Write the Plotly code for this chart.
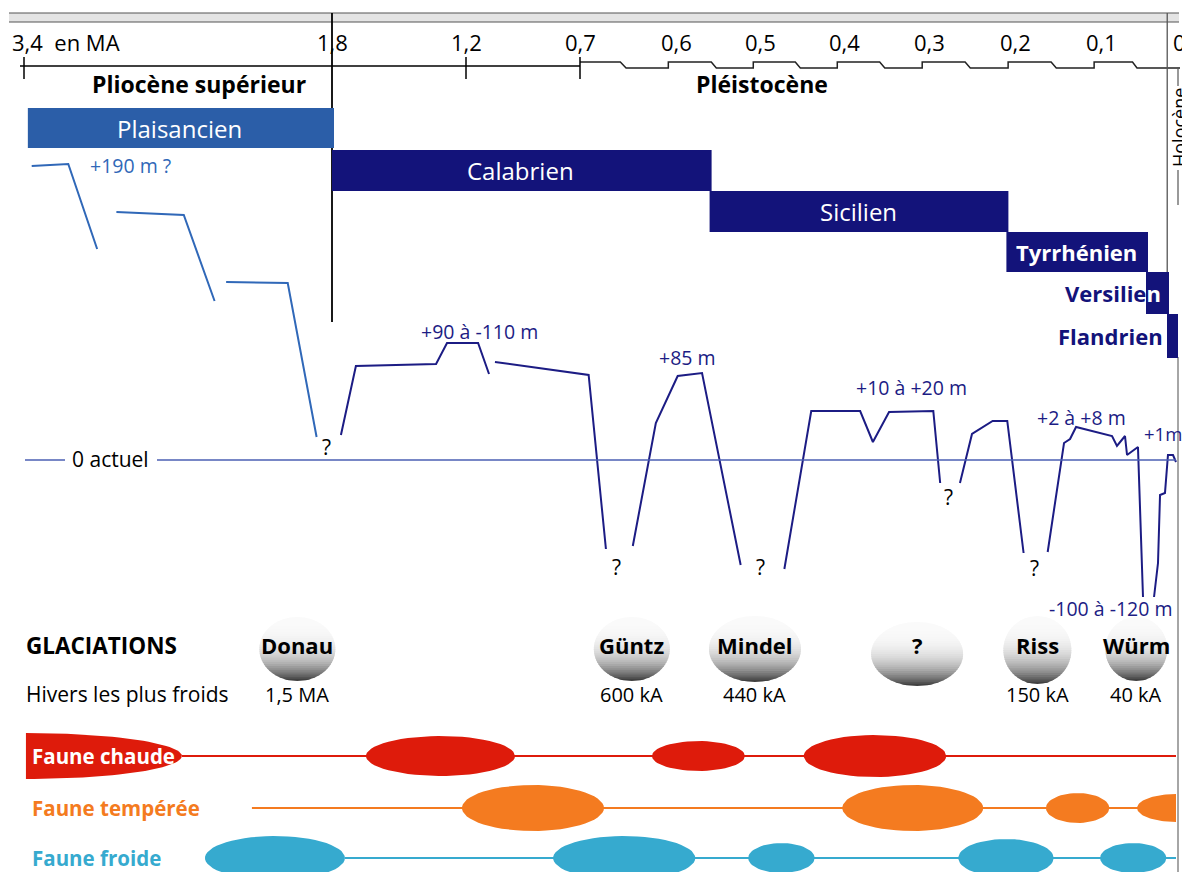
import numpy as np
import plotly.graph_objects as go

# ---------------- DATA ----------------
# Time scale (millions of years, MA) and tick labels
TICK_AGES = [3.4, 1.8, 1.2, 0.7, 0.6, 0.5, 0.4, 0.3, 0.2, 0.1, 0.0]
TICK_LABELS = ["3,4  en MA", "1,8", "1,2", "0,7", "0,6", "0,5", "0,4", "0,3", "0,2", "0,1", "0"]

# Stratigraphic stages (MA)
STAGES = ["Plaisancien", "Calabrien", "Sicilien", "Tyrrhénien", "Versilien", "Flandrien"]
STAGE_START = [3.38, 1.8, 0.56, 0.21, 0.04, 0.012]
STAGE_END = [1.8, 0.56, 0.21, 0.04, 0.012, 0.0]

# Sea level (schematic level above present "0 actuel"), broken segments
PLIO_AGES = [[3.36, 3.17, 3.02], [2.92, 2.57, 2.41], [2.35, 2.03, 1.88]]
PLIO_LEVELS = [[294, 296, 211], [248, 245, 159], [178, 177, 23]]

PLEI_AGES = [
    [1.760, 1.693, 1.334, 1.285, 1.147, 1.099],
    [1.073, 0.691, 0.673],
    [0.645, 0.621, 0.598, 0.569, 0.523],
    [0.471, 0.439, 0.381, 0.366, 0.347, 0.295, 0.287],
    [0.264, 0.250, 0.226, 0.209, 0.190],
    [0.162, 0.143, 0.136, 0.129, 0.0853, 0.0787, 0.068, 0.0653, 0.0507, 0.044],
    [0.0293, 0.0253, 0.024, 0.0213, 0.0147, 0.0107, 0.004, 0.0],
]
PLEI_LEVELS = [
    [25, 94, 96, 117, 117, 86],
    [98, 85, -89],
    [-86, 37, 84, 87, -105],
    [-109, 49, 49, 18, 48, 49, -23],
    [-23, 26, 39, 39, -93],
    [-92, 17, 21, 33, 24, 14, 24, 5, 13, -137],
    [-137, -106, -103, -35, -33, 5, 5, -2],
]

# Glaciations
GLACIATIONS = ["Donau", "Güntz", "Mindel", "?", "Riss", "Würm"]
GLACIATION_AGE = [1.98, 0.646, 0.506, 0.314, 0.174, 0.053]
GLACIATION_COLD = ["1,5 MA", "600 kA", "440 kA", "", "150 kA", "40 kA"]

# Fauna presence (MA)
CHAUDE_START = [1.648, 0.625, 0.448]
CHAUDE_END = [0.985, 0.518, 0.280]
TEMPEREE_START = [1.218, 0.402, 0.164, 0.052]
TEMPEREE_END = [0.675, 0.237, 0.089, 0.0]
FROIDE_START = [2.460, 0.818, 0.514, 0.266, 0.101]
FROIDE_END = [1.742, 0.577, 0.435, 0.155, 0.013]
CHAUDE_LINE = [2.58, 0.0]
TEMPEREE_LINE = [2.216, 0.0]
FROIDE_LINE = [1.742, 0.0]
HOLOCENE_START = 0.0117

# ---------------- LAYOUT / SCALE ----------------
VW, VH = 1190, 872          # browser viewport
OFF = 8                     # default page body margin
W, H = VW - OFF, VH - OFF   # figure size that fits the viewport without scrollbars
TICK_PX = [24, 332, 466, 580, 676, 760, 844, 929, 1015, 1101, 1176]


def X(age):
    return np.interp(-np.asarray(age, dtype=float), -np.array(TICK_AGES), TICK_PX)


FONT = "Open Sans"
NAVY = "#13137a"
PLIO_BLUE = "#2b5ea8"
CURVE_NAVY = "#1c1c84"
ZERO_BLUE = "#4b5fb3"
RED = "#de1b0b"
ORANGE = "#f47b20"
CYAN = "#36aacf"
SEA_ZERO_Y = 460

fig = go.Figure()
shapes = []
ann = []


def text(x, y, s, size=17, color="black", bold=False, xanchor="center", angle=0):
    ann.append(dict(x=x, y=y, text=s, showarrow=False, xref="x", yref="y",
                    xanchor=xanchor, yanchor="middle", textangle=angle,
                    font=dict(family=FONT, size=size, color=color,
                              weight="bold" if bold else "normal")))


def line(x0, y0, x1, y1, color="black", width=1.5):
    shapes.append(dict(type="line", xref="x", yref="y", x0=x0, y0=y0, x1=x1, y1=y1,
                       line=dict(color=color, width=width)))


# --- top band ---
shapes.append(dict(type="rect", xref="x", yref="y", x0=9, x1=X(0) + 3, y0=13, y1=22,
                   fillcolor="#e4e4e4", line=dict(width=0)))
line(9, 13, X(0) + 3, 13, "#555", 1.2)
line(9, 22, X(0) + 3, 22, "#555", 1.2)

# --- time axis ---
AX_Y = 66
line(X(3.4) - 4, AX_Y, X(0.7), AX_Y, "black", 1.5)
for a in [3.4, 1.2, 0.7]:
    line(X(a), AX_Y - 9, X(a), AX_Y + 13, "black", 1.5)
# stepped (broken) scale right of 0.7
UP, LO = 62, 68
sx, sy = [], []
steps = [0.7, 0.6, 0.5, 0.4, 0.3, 0.2, 0.1]
for i, a in enumerate(steps):
    a0 = a if i == 0 else a + 0.008
    sx += [X(a0), X(a - 0.042)]
    sy += [UP, UP]
    nxt = a - 0.1 + 0.008 if a > 0.1 else 0.012
    sx += [X(a - 0.048), X(nxt)]
    sy += [LO, LO]
sx += [X(0) - 10, X(0) + 4]
sy += [LO, LO]
fig.add_trace(go.Scatter(x=sx, y=sy, mode="lines", line=dict(color="#222", width=1.5),
                         hoverinfo="skip", showlegend=False))

for a, lab in zip(TICK_AGES, TICK_LABELS):
    if lab.startswith("3,4"):
        text(X(a) - 14, 42, lab, 22, xanchor="left")
    elif a == 0:
        text(X(a) + 3, 42, lab, 22)
    else:
        text(X(a), 42, lab, 22)

# 1.8 boundary and Holocene boundaries
line(X(1.8), 13, X(1.8), 322, "black", 1.8)
line(X(HOLOCENE_START), 13, X(HOLOCENE_START), 272, "#555", 1.3)
line(X(0) + 2, 357, X(0) + 2, VH, "#888", 1.5)
line(X(0) + 2, 67, X(0) + 2, 86, "#555", 1.2)
line(X(0) + 2, 170, X(0) + 2, 205, "#555", 1.2)
text(X(0) + 3, 128, "Holocène", 18, angle=-90)

text(199, 84, "Pliocène supérieur", 23, bold=True)
text(762, 84, "Pléistocène", 23, bold=True)

# --- stages ---
ROW_TOP = [108, 150, 191, 232, 272, 314]
ROW_BOT = [148, 191, 232, 272, 314, 358]
for i, (nm, s, e) in enumerate(zip(STAGES, STAGE_START, STAGE_END)):
    col = PLIO_BLUE if i == 0 else NAVY
    shapes.append(dict(type="rect", xref="x", yref="y", x0=X(s), x1=X(e) + 2,
                       y0=ROW_TOP[i], y1=ROW_BOT[i], fillcolor=col, line=dict(width=0)))
    ymid = (ROW_TOP[i] + ROW_BOT[i]) / 2
    if i < 3:
        text((X(s) + X(e)) / 2, ymid, nm, 24, "white")
    elif i == 3:
        text((X(s) + X(e)) / 2, ymid, nm, 22, "white", bold=True)
    elif i == 4:
        text(X(s) + 17, ymid, "Versilie<span style='color:white'>n</span>", 22, NAVY,
             bold=True, xanchor="right")
    else:
        text(X(s) - 2, ymid, nm, 22, NAVY, bold=True, xanchor="right")

# --- sea level ---
def seg_xy(ages, levels):
    xs, ys = [], []
    for a, l in zip(ages, levels):
        xs += list(X(a)) + [None]
        ys += [SEA_ZERO_Y - v for v in l] + [None]
    return xs, ys


line(25, SEA_ZERO_Y, 65, SEA_ZERO_Y, ZERO_BLUE, 1.6)
line(157, SEA_ZERO_Y, X(0), SEA_ZERO_Y, ZERO_BLUE, 1.6)
text(110, SEA_ZERO_Y - 1, "0 actuel", 21)

px_, py_ = seg_xy(PLIO_AGES, PLIO_LEVELS)
fig.add_trace(go.Scatter(x=px_, y=py_, mode="lines", line=dict(color="#3068b8", width=2),
                         hoverinfo="skip", showlegend=False))
qx, qy = seg_xy(PLEI_AGES, PLEI_LEVELS)
fig.add_trace(go.Scatter(x=qx, y=qy, mode="lines", line=dict(color=CURVE_NAVY, width=2),
                         hoverinfo="skip", showlegend=False))

text(130, 165, "+190 m ?", 19.5, "#3068b8")
text(479, 331, "+90 à -110 m", 19.5, CURVE_NAVY)
text(687, 357, "+85 m", 19.5, CURVE_NAVY)
text(911, 387, "+10 à +20 m", 19.5, CURVE_NAVY)
text(1081, 417, "+2 à +8 m", 19.5, CURVE_NAVY)
text(1163, 433, "+1m", 18.5, CURVE_NAVY)
text(1111, 608, "-100 à -120 m", 19.5, CURVE_NAVY)
for qxp, qyp in [(326, 447), (616, 567), (760, 567), (948, 497), (1034, 568)]:
    text(qxp, qyp, "?", 21)

# --- glaciations ---
text(24, 645, "GLACIATIONS", 22.5, bold=True, xanchor="left")
text(24, 694, "Hivers les plus froids", 21, xanchor="left")
BLOB_RX = [38, 38, 46, 46, 34, 31]
BLOB_RY = [32, 32, 33, 32, 34, 32]
BLOB_CY = [649, 649, 649, 654, 650, 649]


def blob(cx, cy, rx, ry, n=30):
    for j in range(n):
        y0 = cy - ry + 2 * ry * j / n
        y1 = min(cy - ry + 2 * ry * (j + 1) / n + 0.9, cy + ry)
        ys = np.linspace(y0, y1, 6)
        half = rx * np.sqrt(np.clip(1 - ((ys - cy) / ry) ** 2, 0, 1))
        xl = cx - half
        xr = (cx + half)[::-1]
        pts = list(zip(xl, ys)) + list(zip(xr, ys[::-1]))
        path = "M " + " L ".join(f"{a:.2f},{b:.2f}" for a, b in pts) + " Z"
        t = (j + 0.5) / n
        g = int(round(250 - 195 * t ** 3))
        shapes.append(dict(type="path", path=path, xref="x", yref="y",
                           fillcolor=f"rgb({g},{g},{g})", line=dict(width=0)))


for nm, a, cold, rx, ry, cy in zip(GLACIATIONS, GLACIATION_AGE, GLACIATION_COLD,
                                   BLOB_RX, BLOB_RY, BLOB_CY):
    cx = float(X(a))
    blob(cx, cy, rx, ry)
    text(cx, 645, nm, 22, bold=True)
    if cold:
        text(cx, 694, cold, 20)

# --- fauna ---
def ellipse_xy(x0, x1, cy, ry, half_left=False, n=60):
    if half_left:
        cx, rx = x1, x1 - x0
        th = np.linspace(np.pi / 2, 3 * np.pi / 2, n)
    else:
        cx, rx = (x0 + x1) / 2, (x1 - x0) / 2
        th = np.linspace(0, 2 * np.pi, n)
    return list(cx + rx * np.cos(th)) + [None], list(cy + ry * np.sin(th)) + [None]


def fauna(starts, ends, line_rng, cy, color, heights, cut_last=False):
    fig.add_trace(go.Scatter(x=list(X(line_rng)), y=[cy, cy], mode="lines",
                             line=dict(color=color, width=2), hoverinfo="skip",
                             showlegend=False))
    xs, ys = [], []
    for k, (s, e, h) in enumerate(zip(starts, ends, heights)):
        ex, ey = ellipse_xy(float(X(s)), float(X(e)), cy, h,
                            half_left=(cut_last and k == len(starts) - 1))
        xs += ex
        ys += ey
    fig.add_trace(go.Scatter(x=xs, y=ys, mode="lines", fill="toself", fillcolor=color,
                             line=dict(width=0, color=color), hoverinfo="skip",
                             showlegend=False))


# Faune chaude label shape (right half of an ellipse)
th = np.linspace(-np.pi / 2, np.pi / 2, 60)
lx0 = float(X(3.39))
lrx = float(X(CHAUDE_LINE[0])) - lx0
fig.add_trace(go.Scatter(x=list(lx0 + lrx * np.cos(th)), y=list(756 + 23 * np.sin(th)),
                         fill="toself", fillcolor=RED, mode="lines",
                         line=dict(width=0, color=RED), hoverinfo="skip", showlegend=False))
fauna(CHAUDE_START, CHAUDE_END, CHAUDE_LINE, 756, RED, [20, 15, 21])
fauna(TEMPEREE_START, TEMPEREE_END, TEMPEREE_LINE, 808, ORANGE, [23, 23, 15, 14], cut_last=True)
fauna(FROIDE_START, FROIDE_END, FROIDE_LINE, 858, CYAN, [22, 22, 15, 19, 15])
text(30, 756, "Faune chaude", 20.5, "white", bold=True, xanchor="left")
text(30, 808, "Faune tempérée", 20.5, ORANGE, bold=True, xanchor="left")
text(30, 858, "Faune froide", 20.5, CYAN, bold=True, xanchor="left")

fig.update_layout(
    width=W, height=H, margin=dict(l=0, r=0, t=0, b=0),
    paper_bgcolor="white", plot_bgcolor="white",
    xaxis=dict(range=[OFF, VW], visible=False, fixedrange=True),
    yaxis=dict(range=[VH, OFF], visible=False, fixedrange=True),
    shapes=shapes, annotations=ann, showlegend=False,
)
fig.write_html("out.html")
